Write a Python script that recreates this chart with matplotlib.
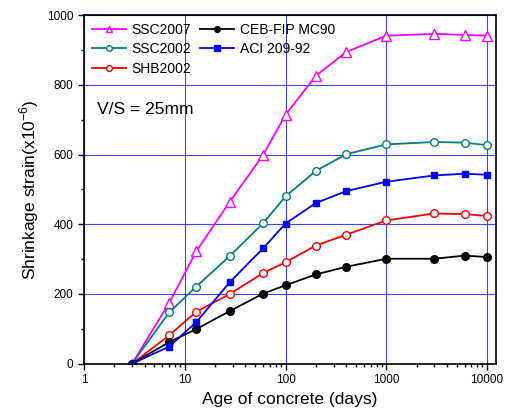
import matplotlib
matplotlib.use("Agg")
import matplotlib.pyplot as plt
from matplotlib.ticker import LogLocator, FixedLocator, NullFormatter, FuncFormatter

plt.rcParams["font.family"] = ["Liberation Sans", "DejaVu Sans"]

# ages (days)
AGE = [3, 7, 13, 28, 60, 100, 200, 400, 1000, 3000, 6000, 10000]

SSC2007 = [0, 174, 322, 465, 599, 714, 826, 894, 941, 946, 943, 941]
SSC2002 = [0, 147, 221, 309, 403, 480, 553, 601, 629, 636, 634, 627]
SHB2002 = [0, 81, 149, 200, 260, 291, 339, 370, 411, 431, 429, 424]
CEB_FIP = [0, 62, 99, 151, 201, 225, 256, 278, 301, 301, 310, 306]
ACI209 = [0, 49, 119, 234, 331, 402, 461, 495, 522, 540, 545, 542]

fig = plt.figure(figsize=(5.12, 4.19), dpi=100)
ax = fig.add_axes([0.164, 0.132, 0.805, 0.832])

ax.plot(AGE, SSC2007, color="#ff00ff", marker="^", mfc="white", mec="#ff00ff",
        ms=6.5, lw=1.3, label="SSC2007")
ax.plot(AGE, SSC2002, color="#008080", marker="o", mfc="white", mec="#008080",
        ms=5.5, lw=1.3, label="SSC2002")
ax.plot(AGE, SHB2002, color="#ff0000", marker="o", mfc="white", mec="#ff0000",
        ms=5.5, lw=1.3, label="SHB2002")
ax.plot(AGE, CEB_FIP, color="black", marker="o", ms=5.5, lw=1.3, label="CEB-FIP MC90")
ax.plot(AGE, ACI209, color="#0000ff", marker="s", ms=5, lw=1.3, label="ACI 209-92")

ax.set_xscale("log")
ax.set_xlim(1, 12300)
ax.set_ylim(0, 1000)
ax.xaxis.set_major_locator(FixedLocator([1, 10, 100, 1000, 10000]))
ax.xaxis.set_major_formatter(FuncFormatter(lambda v, p: f"{int(v)}"))
ax.xaxis.set_minor_locator(LogLocator(base=10, subs=range(2, 10), numticks=20))
ax.xaxis.set_minor_formatter(NullFormatter())
ax.set_yticks([0, 200, 400, 600, 800, 1000])
ax.set_yticks([100, 300, 500, 700, 900], minor=True)

ax.tick_params(which="major", direction="out", length=4, width=1, labelsize=8.5)
ax.tick_params(which="minor", direction="out", length=2.5, width=1)
for s in ax.spines.values():
    s.set_linewidth(1.2)

ax.grid(True, which="major", color="#2222ff", lw=0.8, alpha=0.85)
ax.set_axisbelow(True)

ax.set_xlabel("Age of concrete (days)", fontsize=12.5)
ax.set_ylabel("Shrinkage strain(x10$^{\\mathregular{-6}}$)", fontsize=12.5)

ax.text(0.032, 0.73, "V/S = 25mm", transform=ax.transAxes, fontsize=12.5,
        ha="left", va="center")

ax.legend(loc="upper left", ncol=2, frameon=False, fontsize=10,
          markerscale=0.75, handlelength=2.45, handletextpad=0.4,
          columnspacing=0.65, labelspacing=0.4, borderaxespad=0.3,
          borderpad=0.25)

fig.savefig("out.png", dpi=100)
